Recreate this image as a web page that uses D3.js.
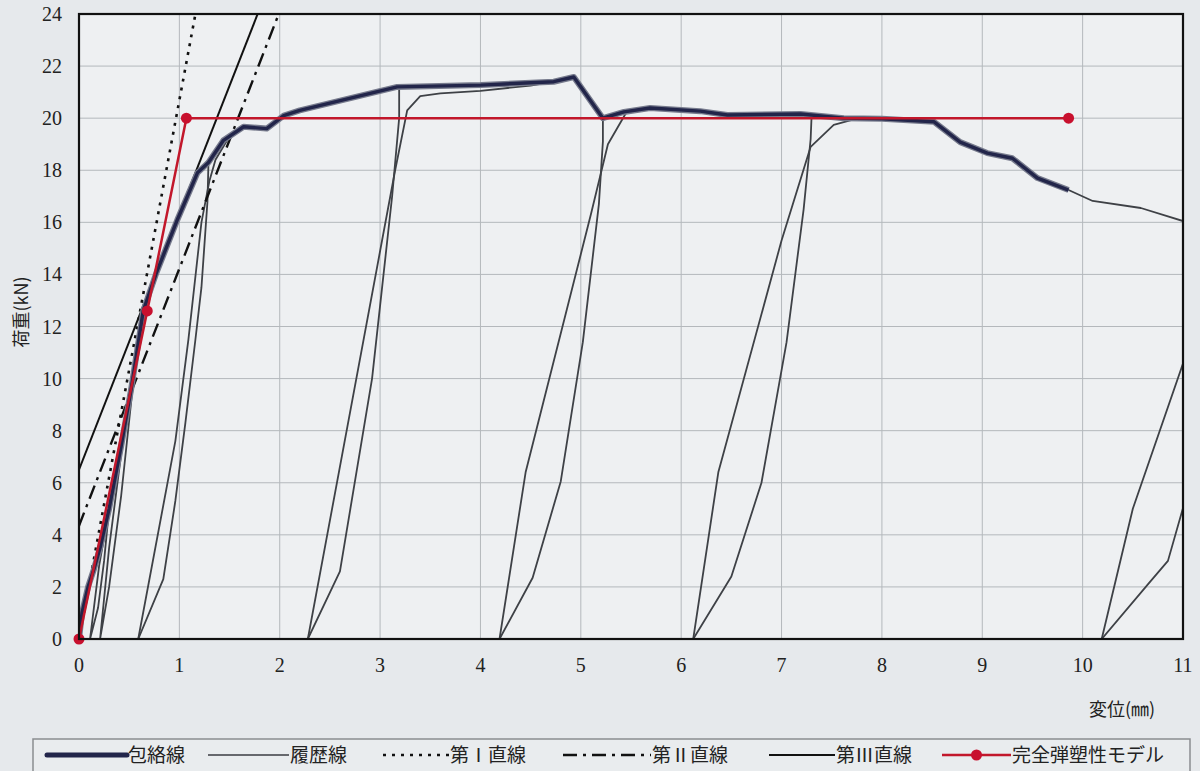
<!DOCTYPE html>
<html lang="ja">
<head>
<meta charset="utf-8">
<title>荷重-変位</title>
<script src="https://cdn.jsdelivr.net/npm/d3@7"></script>
<style>
  body { margin: 0; background: #e6e9ec; }
  svg { display: block; }
  .num { font-family: "Liberation Serif", "Times New Roman", "DejaVu Serif", "Noto Serif", serif; font-size: 20px; fill: #222; }
  .jp { font-family: "Noto Sans CJK JP", sans-serif; fill: #222; }
</style>
</head>
<body>
<script>
// data (displacement mm, load kN)
var envelope = [[0,0],[0.03,1],[0.09,2.0],[0.15,2.7],[0.21,3.5],[0.3,5.0],[0.42,7.4],[0.52,9.6],
  [0.64,12.6],[0.77,14.05],[0.98,16.1],[1.18,17.9],[1.29,18.3],[1.44,19.15],[1.64,19.67],[1.87,19.6],
  [2.04,20.1],[2.2,20.3],[3.17,21.2],[4.0,21.27],[4.73,21.4],[4.93,21.58],[5.22,20.0],[5.43,20.24],
  [5.69,20.39],[6.19,20.27],[6.46,20.12],[7.19,20.16],[7.62,20.0],[8.0,19.98],[8.52,19.86],
  [8.78,19.08],[9.05,18.66],[9.3,18.46],[9.55,17.7],[9.86,17.24]];

var loop0a = [[0.11,0],[0.2,2.8],[0.3,5.0],[0.25,3.0],[0.19,1.2],[0.11,0]];
var loop0b = [[0.21,0],[0.3,3.5],[0.5,9.5],[0.64,12.6],[0.55,10.2],[0.42,5.5],[0.3,2.0],[0.21,0]];
var reload1 = [[0.59,0],[0.96,7.6],[1.09,11.5],[1.22,16.0],[1.3,17.6],[1.36,18.4],[1.5,19.3]];
var unload1 = [[1.29,18.3],[1.28,16.8],[1.22,13.5],[1.16,11.5],[1.06,8.3],[0.96,5.3],[0.84,2.3],[0.59,0]];
var reload2 = [[2.28,0],[3.15,18.0],[3.27,20.3],[3.4,20.85],[3.6,20.95],[4.0,21.05],[4.5,21.25],[4.75,21.42]];
var unload2 = [[3.19,21.2],[3.19,20.0],[3.12,17.0],[2.92,10],[2.6,2.6],[2.28,0]];
var reload3 = [[4.19,0],[4.45,6.4],[5.1,16.3],[5.27,19.0],[5.45,20.2]];
var unload3 = [[5.22,20.0],[5.22,19.1],[5.18,16.7],[5.02,11.4],[4.8,6.05],[4.52,2.35],[4.19,0]];
var reload4 = [[6.12,0],[6.37,6.4],[7.0,15.3],[7.29,18.9],[7.52,19.74],[7.72,19.95],[7.9,20.0]];
var unload4 = [[7.3,20.15],[7.29,19.2],[7.22,16.5],[7.05,11.4],[6.8,6.0],[6.5,2.4],[6.12,0]];
var reload5 = [[10.19,0],[10.5,5.0],[11.02,10.8]];
var unload5 = [[10.19,0],[10.65,2.1],[10.85,3.0],[11.02,5.3]];
var tail = [[9.86,17.24],[10.1,16.82],[10.58,16.55],[11.0,16.05]];

var line1 = [[0,0],[1.16,24]];
var line2 = [[0,4.35],[1.99,24]];
var line3 = [[0,6.5],[1.78,24]];
var model = [[0,0],[0.68,12.6],[1.07,20],[9.86,20]];

var xTicks = [0,1,2,3,4,5,6,7,8,9,10,11];
var yTicks = [0,2,4,6,8,10,12,14,16,18,20,22,24];

var legendItems = [
  {label: "包絡線", kind: "env", x1: 47, x2: 127},
  {label: "履歴線", kind: "hys", x1: 208, x2: 289},
  {label: "第Ⅰ直線", kind: "l1", x1: 383, x2: 449},
  {label: "第Ⅱ直線", kind: "l2", x1: 563, x2: 651},
  {label: "第Ⅲ直線", kind: "l3", x1: 769, x2: 835},
  {label: "完全弾塑性モデル", kind: "model", x1: 942, x2: 1011}
];

var W = 1200, H = 771;
var svg = d3.select("body").append("svg").attr("width", W).attr("height", H);

var x = d3.scaleLinear().domain([0, 11]).range([79, 1183]);
var y = d3.scaleLinear().domain([0, 24]).range([639, 14]);

svg.append("rect").attr("x", x(0)).attr("y", y(24))
  .attr("width", x(11) - x(0)).attr("height", y(0) - y(24)).attr("fill", "#eef0f2");

svg.append("clipPath").attr("id", "clip").append("rect")
  .attr("x", x(0)).attr("y", y(24)).attr("width", x(11) - x(0)).attr("height", y(0) - y(24));

// grid
svg.append("g").selectAll("line")
  .data(xTicks.slice(1, -1)).enter().append("line")
  .attr("x1", d => x(d)).attr("x2", d => x(d)).attr("y1", y(0)).attr("y2", y(24))
  .attr("stroke", "#b4b8bc").attr("stroke-width", 1);
svg.append("g").selectAll("line")
  .data(yTicks.slice(1, -1)).enter().append("line")
  .attr("x1", x(0)).attr("x2", x(11)).attr("y1", d => y(d)).attr("y2", d => y(d))
  .attr("stroke", "#b4b8bc").attr("stroke-width", 1);

var line = d3.line().x(d => x(d[0])).y(d => y(d[1]));
var plot = svg.append("g").attr("clip-path", "url(#clip)");

// hysteresis
var hys = [loop0a, loop0b, reload1, unload1, reload2, unload2, reload3, unload3,
           reload4, unload4, reload5, unload5, tail];
plot.selectAll("path.hys").data(hys).enter().append("path")
  .attr("class", "hys").attr("d", line).attr("fill", "none")
  .attr("stroke", "#3e4146").attr("stroke-width", 1.8).attr("stroke-linejoin", "round");

// straight lines
plot.append("path").attr("d", line(line1)).attr("fill", "none")
  .attr("stroke", "#111").attr("stroke-width", 2.6).attr("stroke-dasharray", "3,6");
plot.append("path").attr("d", line(line2)).attr("fill", "none")
  .attr("stroke", "#111").attr("stroke-width", 2.4).attr("stroke-dasharray", "14,6,3,6");
plot.append("path").attr("d", line(line3)).attr("fill", "none")
  .attr("stroke", "#111").attr("stroke-width", 2);

// envelope
plot.append("path").attr("d", line(envelope)).attr("fill", "none")
  .attr("stroke", "#767a8c").attr("stroke-width", 6).attr("stroke-linejoin", "round");
plot.append("path").attr("d", line(envelope)).attr("fill", "none")
  .attr("stroke", "#22254a").attr("stroke-width", 3.4).attr("stroke-linejoin", "round");

// model
svg.append("path").attr("d", line(model)).attr("fill", "none")
  .attr("stroke", "#c2172b").attr("stroke-width", 2.5);
svg.selectAll("circle.m").data(model).enter().append("circle")
  .attr("cx", d => x(d[0])).attr("cy", d => y(d[1])).attr("r", 5.5).attr("fill", "#c8102e");

// frame
svg.append("rect").attr("x", x(0)).attr("y", y(24))
  .attr("width", x(11) - x(0)).attr("height", y(0) - y(24))
  .attr("fill", "none").attr("stroke", "#111").attr("stroke-width", 2.2);

// tick labels
svg.selectAll("text.yt").data(yTicks).enter().append("text")
  .attr("class", "num").attr("x", 62).attr("y", d => y(d) + 7)
  .attr("text-anchor", "end").text(d => d);
svg.selectAll("text.xt").data(xTicks).enter().append("text")
  .attr("class", "num").attr("x", d => x(d)).attr("y", 672)
  .attr("text-anchor", "middle").text(d => d);

svg.append("text").attr("class", "jp").style("font-size", "18px")
  .attr("transform", "translate(28,312) rotate(-90)")
  .attr("text-anchor", "middle").text("荷重(kN)");
svg.append("text").attr("class", "jp").style("font-size", "18px")
  .attr("x", 1122).attr("y", 716)
  .attr("text-anchor", "middle").text("変位(㎜)");

// legend
svg.append("rect").attr("x", 33).attr("y", 739).attr("width", 1157).attr("height", 50)
  .attr("fill", "#e9ecee").attr("stroke", "#8a8d90").attr("stroke-width", 1.5);
var ly = 755;
var lg = svg.append("g").selectAll("g").data(legendItems).enter().append("g");
lg.each(function(d) {
  var g = d3.select(this);
  var l = g.append("line").attr("x1", d.x1).attr("x2", d.x2).attr("y1", ly).attr("y2", ly);
  if (d.kind === "env") {
    l.attr("stroke", "#22254a").attr("stroke-width", 5).attr("stroke-linecap", "round");
  } else if (d.kind === "hys") {
    l.attr("stroke", "#3a3d42").attr("stroke-width", 1.6);
  } else if (d.kind === "l1") {
    l.attr("stroke", "#111").attr("stroke-width", 2.6).attr("stroke-dasharray", "3,6");
  } else if (d.kind === "l2") {
    l.attr("stroke", "#111").attr("stroke-width", 2.4).attr("stroke-dasharray", "14,6,3,6");
  } else if (d.kind === "l3") {
    l.attr("stroke", "#111").attr("stroke-width", 2);
  } else {
    l.attr("stroke", "#c2172b").attr("stroke-width", 2.5);
    g.append("circle").attr("cx", (d.x1 + d.x2) / 2).attr("cy", ly).attr("r", 5.5).attr("fill", "#c8102e");
  }
  g.append("text").attr("class", "jp").style("font-size", "19px")
    .attr("x", d.x2 + 1).attr("y", ly + 7).text(d.label);
});
</script>
</body>
</html>
